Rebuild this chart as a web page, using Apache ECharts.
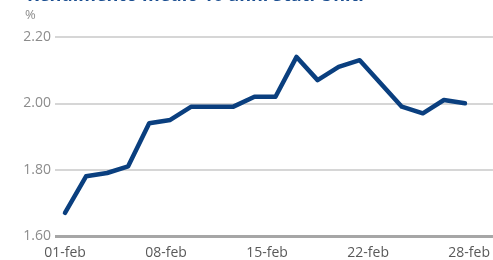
<!DOCTYPE html>
<html>
<head>
<meta charset="utf-8">
<script src="https://cdn.jsdelivr.net/npm/echarts@6/dist/echarts.min.js"></script>
<style>
  html, body { margin: 0; padding: 0; background: #fff; }
  #chart { width: 493px; height: 260px; }
</style>
</head>
<body>
<div id="chart"></div>
<script>
// giorni lavorativi di febbraio (indice sull'asse x)
var days = [0, 1, 2, 3, 4, 5, 6, 7, 8, 9, 10, 11, 12, 13, 14, 15, 16, 17, 18, 19];
var yields = [1.67, 1.78, 1.79, 1.81, 1.94, 1.95, 1.99, 1.99, 1.99, 2.02,
              2.02, 2.14, 2.07, 2.11, 2.13, 2.06, 1.99, 1.97, 2.01, 2.00];
var tickPos = [0, 4.8, 9.6, 14.4, 19.2];
var tickLabels = ['01-feb', '08-feb', '15-feb', '22-feb', '28-feb'];

var chart = echarts.init(document.getElementById('chart'), null, { renderer: 'canvas' });

var option = {
  animation: false,
  backgroundColor: '#ffffff',
  title: {
    text: 'Rendimento medio 10 anni Stati Uniti',
    left: 22,
    top: -18,
    textStyle: {
      fontFamily: 'Open Sans',
      fontSize: 18,
      fontWeight: 'bold',
      color: '#1c4f91'
    }
  },
  graphic: [{
    type: 'text',
    left: 25,
    top: 9,
    style: {
      text: '%',
      fontFamily: 'Open Sans',
      fontSize: 13,
      fill: '#8c8c8c'
    }
  }],
  grid: {
    left: 55,
    right: 0,
    top: 37,
    bottom: 24,
    containLabel: false
  },
  xAxis: {
    type: 'value',
    min: -0.475,
    max: 20.33,
    splitLine: { show: false },
    axisLine: { show: false },
    axisTick: { show: false },
    axisLabel: {
      customValues: tickPos,
      fontFamily: 'Open Sans',
      fontSize: 14,
      color: '#595959',
      margin: 10,
      formatter: function (v) {
        var i = tickPos.indexOf(v);
        return i >= 0 ? tickLabels[i] : '';
      }
    }
  },
  yAxis: {
    type: 'value',
    min: 1.6,
    max: 2.2,
    interval: 0.2,
    axisLine: { show: false },
    axisTick: { show: false },
    axisLabel: {
      fontFamily: 'Open Sans',
      fontSize: 14,
      color: '#8c8c8c',
      margin: 4,
      formatter: function (v) { return v.toFixed(2); }
    },
    splitLine: {
      lineStyle: {
        color: ['#a6a6a6', '#c8c8c8', '#c8c8c8', '#c8c8c8'],
        width: 1.5
      }
    }
  },
  series: [{
    type: 'line',
    data: days.map(function (d, i) { return [d, yields[i]]; }),
    showSymbol: false,
    lineStyle: { color: '#0a3f7f', width: 4.5, join: 'round', cap: 'round' },
    markLine: {
      silent: true,
      symbol: 'none',
      label: { show: false },
      lineStyle: { color: '#a6a6a6', width: 3, type: 'solid' },
      data: [{ yAxis: 1.6 }]
    }
  }]
};

chart.setOption(option);
</script>
</body>
</html>
